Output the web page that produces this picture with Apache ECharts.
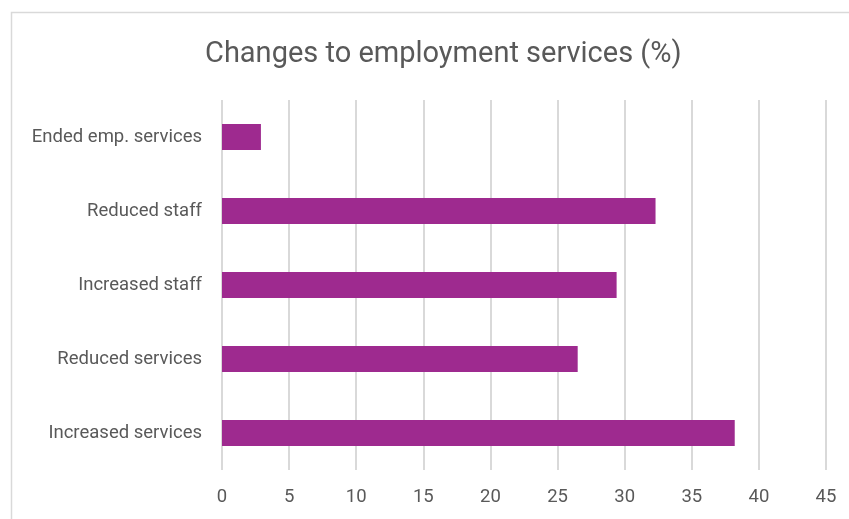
<!DOCTYPE html>
<html><head><meta charset="utf-8">
<script src="https://cdn.jsdelivr.net/npm/echarts@6/dist/echarts.min.js"></script>
<style>html,body{margin:0;padding:0;background:#fff}#c{width:849px;height:519px}</style>
</head><body><div id="c"></div>
<script>
const categories = ['Increased services','Reduced services','Increased staff','Reduced staff','Ended emp. services'];
const values = [38.2, 26.5, 29.4, 32.3, 2.9];
const xTicks = {min:0, max:45, interval:5};
const chart = echarts.init(document.getElementById('c'));
chart.setOption({
  animation:false,
  title:{text:'Changes to employment services (%)', left:200, top:35,
    textStyle:{fontFamily:'Roboto', fontWeight:'normal', fontSize:29, color:'#595959'}},
  graphic:[{type:'rect', shape:{x:11.5,y:12.5,width:900,height:600}, style:{fill:'none', stroke:'#d9d9d9', lineWidth:1.5}, silent:true}],
  grid:{left:222, right:23, top:100, bottom:49},
  xAxis:{type:'value', min:xTicks.min, max:xTicks.max, interval:xTicks.interval,
    axisLine:{show:false}, axisTick:{show:false},
    axisLabel:{fontFamily:'Roboto', fontSize:18.5, color:'#595959', margin:18},
    splitLine:{lineStyle:{color:'#d9d9d9', width:2}}},
  yAxis:{type:'category', data:categories, axisLine:{show:false}, axisTick:{show:false},
    axisLabel:{fontFamily:'Roboto', fontSize:18.5, color:'#595959', margin:20, padding:[8,0,0,0]}},
  series:[{type:'bar', data:values, barWidth:'35%', itemStyle:{color:'#9E2A8F'}}]
});
</script></body></html>
